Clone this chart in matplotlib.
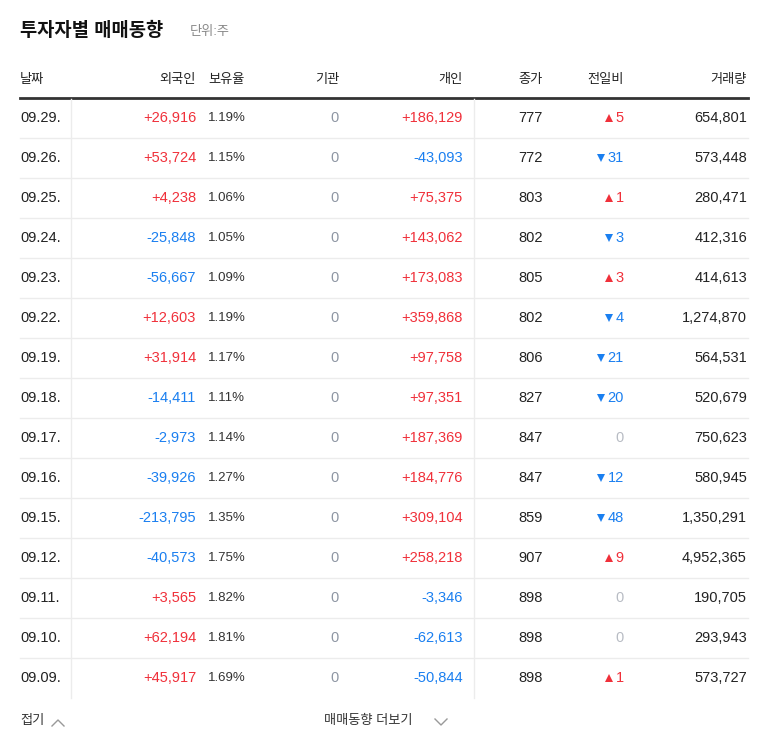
import matplotlib.pyplot as plt

plt.rcParams['font.family'] = ['Liberation Sans', 'Noto Sans CJK JP', 'Noto Sans CJK KR',
                               'Noto Sans CJK SC', 'DejaVu Sans']

dates = ["09.29.", "09.26.", "09.25.", "09.24.", "09.23.", "09.22.", "09.19.", "09.18.",
         "09.17.", "09.16.", "09.15.", "09.12.", "09.11.", "09.10.", "09.09."]
foreign = [26916, 53724, 4238, -25848, -56667, 12603, 31914, -14411,
           -2973, -39926, -213795, -40573, 3565, 62194, 45917]
holding = [1.19, 1.15, 1.06, 1.05, 1.09, 1.19, 1.17, 1.11, 1.14, 1.27, 1.35, 1.75, 1.82, 1.81, 1.69]
institution = [0] * 15
individual = [186129, -43093, 75375, 143062, 173083, 359868, 97758, 97351,
              187369, 184776, 309104, 258218, -3346, -62613, -50844]
close = [777, 772, 803, 802, 805, 802, 806, 827, 847, 847, 859, 907, 898, 898, 898]
change = [5, -31, 1, -3, 3, -4, -21, -20, 0, -12, -48, 9, 0, 0, 1]
volume = [654801, 573448, 280471, 412316, 414613, 1274870, 564531, 520679,
          750623, 580945, 1350291, 4952365, 190705, 293943, 573727]
headers = ["날짜", "외국인", "보유율", "기관", "개인", "종가", "전일비", "거래량"]

RED = "#f0303a"
BLUE = "#1a7ff0"
GRAY = "#8e96a3"
DARK = "#222222"


def color_of(v):
    if v > 0:
        return RED
    if v < 0:
        return BLUE
    return GRAY


def signed(v):
    return ("+" if v > 0 else "") + f"{v:,}"


fig = plt.figure(figsize=(7.68, 7.49), dpi=100)
ax = fig.add_axes([0, 0, 1, 1])
ax.set_xlim(0, 768)
ax.set_ylim(749, 0)
ax.axis('off')

fs = 10.5
ax.text(20, 31, "투자자별 매매동향", fontsize=13.5, fontweight='bold', va='center', color='#111111')
ax.text(190, 32, "단위:주", fontsize=9.5, va='center', color='#888888')

hx = [20, 196, 208, 339, 463, 543, 624, 747]
ha = ['left', 'right', 'left', 'right', 'right', 'right', 'right', 'right']
for x, a, h in zip(hx, ha, headers):
    ax.text(x, 80, h, fontsize=9.5, ha=a, va='center', color=DARK)
ax.plot([20, 748], [98, 98], color='#333333', lw=2)

n = len(dates)
for i in range(n):
    y = 118 + 40 * i
    ax.text(20, y, dates[i], fontsize=fs, va='center', color=DARK)
    ax.text(196, y, signed(foreign[i]), fontsize=fs, ha='right', va='center', color=color_of(foreign[i]))
    ax.text(208, y, f"{holding[i]:.2f}%", fontsize=9.5, va='center', color='#333333')
    ax.text(339, y, str(institution[i]), fontsize=fs, ha='right', va='center', color=GRAY)
    ax.text(463, y, signed(individual[i]), fontsize=fs, ha='right', va='center', color=color_of(individual[i]))
    ax.text(543, y, str(close[i]), fontsize=fs, ha='right', va='center', color=DARK)
    c = change[i]
    if c == 0:
        ax.text(624, y, "0", fontsize=fs, ha='right', va='center', color='#b8bcc4')
    else:
        ax.text(624, y, str(abs(c)), fontsize=fs, ha='right', va='center', color=color_of(c))
        w = 8 * len(str(abs(c)))
        ax.plot(624 - w - 7, y, marker='^' if c > 0 else 'v', ms=6, color=color_of(c), mew=0)
    ax.text(747, y, f"{volume[i]:,}", fontsize=fs, ha='right', va='center', color=DARK)
    if i < n - 1:
        ax.plot([20, 748], [y + 20, y + 20], color='#ececec', lw=1)

ax.plot([71, 71], [99, 698], color='#ececec', lw=1)
ax.plot([474, 474], [99, 698], color='#ececec', lw=1)

ax.text(20, 721, "접기", fontsize=9.5, va='center', color='#333333')
ax.plot([52, 58, 64], [726, 720, 726], color='#999999', lw=1)
ax.text(324, 721, "매매동향 더보기", fontsize=9.5, va='center', color='#333333')
ax.plot([435, 441, 447], [719, 725, 719], color='#999999', lw=1)

fig.savefig("out.png", dpi=100)
